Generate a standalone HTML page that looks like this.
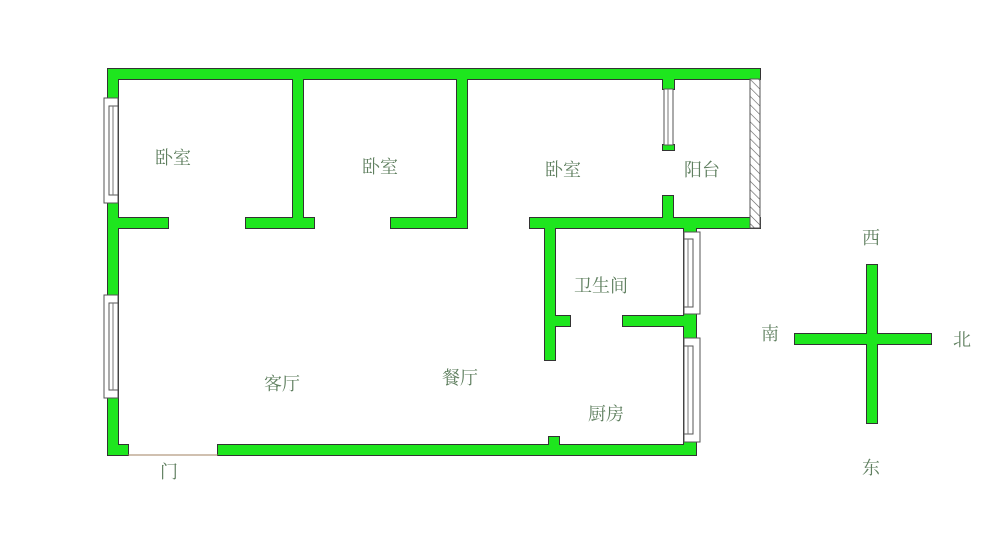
<!DOCTYPE html>
<html><head><meta charset="utf-8"><style>
body{margin:0;background:#fff;}
text{font-family:"Liberation Serif","Noto Serif CJK SC",serif;font-size:18px;fill:#5f7f5f;}
</style></head><body>
<svg width="1000" height="544" viewBox="0 0 1000 544" xmlns="http://www.w3.org/2000/svg">
<defs>
<pattern id="h" width="6" height="6" patternUnits="userSpaceOnUse" patternTransform="rotate(-45)">
<rect width="6" height="6" fill="#fff"/><line x1="0" y1="0" x2="0" y2="6" stroke="#555" stroke-width="1.2"/></pattern>
<g id="w">
<rect x="108" y="69" width="652" height="10"/>
<rect x="108" y="69" width="10" height="386"/>
<rect x="108" y="445" width="20" height="10"/>
<rect x="218" y="445" width="478" height="10"/>
<rect x="293" y="79" width="10" height="149"/>
<rect x="457" y="79" width="10" height="149"/>
<rect x="118" y="218" width="50" height="10"/>
<rect x="246" y="218" width="68" height="10"/>
<rect x="391" y="218" width="76" height="10"/>
<rect x="530" y="218" width="230" height="10"/>
<rect x="663" y="79" width="11" height="10"/>
<rect x="663" y="145" width="11" height="5"/>
<rect x="663" y="196" width="10" height="30"/>
<rect x="545" y="228" width="10" height="132"/>
<rect x="555" y="316" width="15" height="10"/>
<rect x="623" y="316" width="73" height="10"/>
<rect x="684" y="228" width="12" height="227"/>
<rect x="549" y="437" width="10" height="10"/>
<rect x="867" y="265" width="10" height="158"/>
<rect x="795" y="334" width="136" height="10"/>
</g>
</defs>
<g fill="none" stroke="#333" stroke-width="2"><use href="#w"/></g>
<g fill="#1ee61e"><use href="#w"/></g>
<rect x="750" y="79" width="10" height="149" fill="url(#h)" stroke="#555" stroke-width="1"/>
<!-- windows -->
<g fill="#fff" stroke="#555" stroke-width="1">
<rect x="104" y="98" width="14" height="105"/>
<rect x="109" y="106" width="9" height="89"/>
<rect x="104" y="295" width="14" height="103"/>
<rect x="109" y="303" width="9" height="87"/>
<rect x="664" y="89" width="9" height="56"/>
<rect x="684" y="232" width="16" height="82"/>
<rect x="684" y="239" width="9" height="68"/>
<rect x="684" y="338" width="16" height="104"/>
<rect x="684" y="346" width="9" height="88"/>
</g>
<g stroke="#777" stroke-width="1">
<line x1="113" y1="106" x2="113" y2="195"/><line x1="113" y1="303" x2="113" y2="390"/>
<line x1="668" y1="89" x2="668" y2="145"/><line x1="688" y1="239" x2="688" y2="307"/><line x1="688" y1="346" x2="688" y2="434"/>
</g>
<line x1="128" y1="455" x2="218" y2="455" stroke="#a08060" stroke-width="1"/>
<text x="155" y="164">卧室</text>
<text x="362" y="173">卧室</text>
<text x="545" y="176">卧室</text>
<text x="684" y="176">阳台</text>
<text x="574" y="292">卫生间</text>
<text x="264" y="390">客厅</text>
<text x="442" y="384">餐厅</text>
<text x="588" y="420">厨房</text>
<text x="160" y="478">门</text>
<text x="862" y="244">西</text>
<text x="761" y="340">南</text>
<text x="953" y="346">北</text>
<text x="862" y="474">东</text>
</svg>
</body></html>
